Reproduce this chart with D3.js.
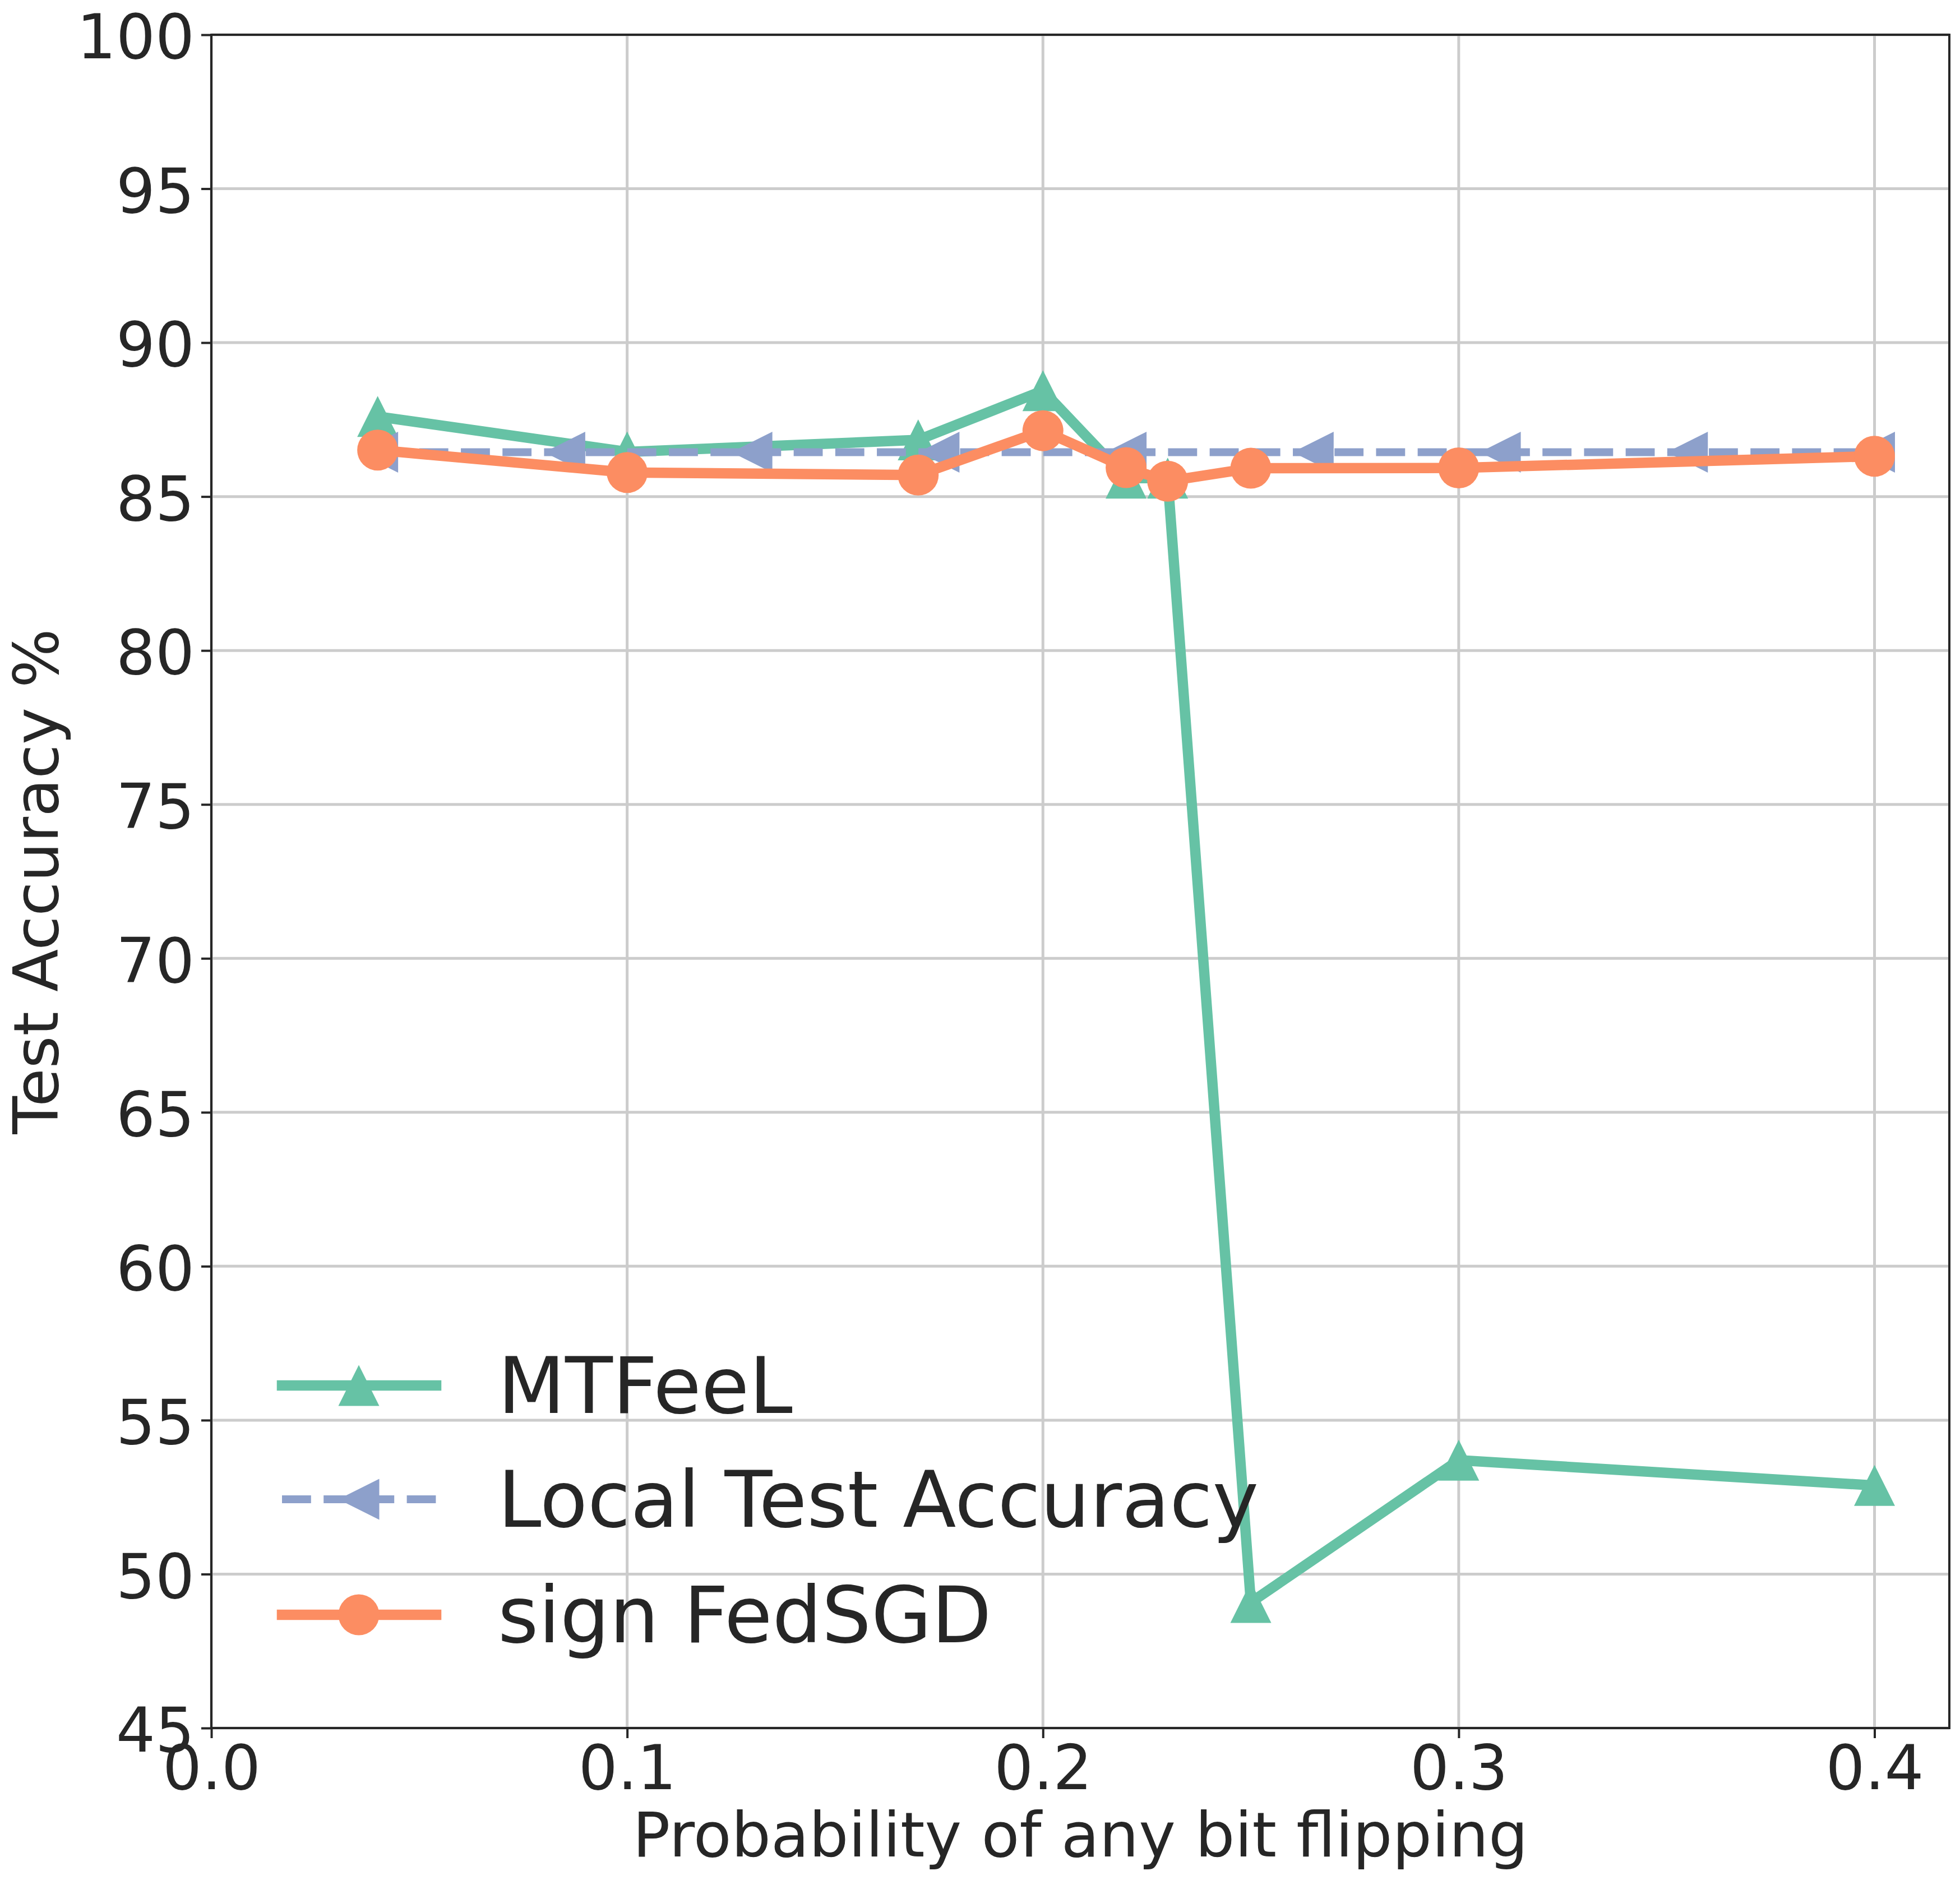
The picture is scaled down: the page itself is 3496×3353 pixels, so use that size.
<!DOCTYPE html>
<html>
<head>
<meta charset="utf-8">
<script src="https://cdn.jsdelivr.net/npm/d3@7"></script>
<style>
  body { margin: 0; background: #fff; }
  svg text { font-family: "DejaVu Sans", sans-serif; fill: #262626; }
</style>
</head>
<body>
<div id="chart"></div>
<script>
// data
const flipProb = [0.04, 0.1, 0.17, 0.2, 0.22, 0.23, 0.25, 0.3, 0.4];
const mtfeelAcc = [87.6, 86.45, 86.84, 88.44, 85.6, 85.6, 49.08, 53.7, 52.88];
const signFedAcc = [86.51, 85.78, 85.7, 87.14, 85.94, 85.5, 85.92, 85.93, 86.31];
const localProb = [0.04, 0.085, 0.13, 0.175, 0.22, 0.265, 0.31, 0.355, 0.4];
const localAcc = [86.44, 86.44, 86.44, 86.44, 86.44, 86.44, 86.44, 86.44, 86.44];
const xTicks = [0.0, 0.1, 0.2, 0.3, 0.4];
const yTicks = [45, 50, 55, 60, 65, 70, 75, 80, 85, 90, 95, 100];
const seriesNames = ["MTFeeL", "Local Test Accuracy", "sign FedSGD"];

const width = 3496, height = 3353;
const plot = { left: 377, right: 3477, top: 62, bottom: 3082 };
const ink = "#262626";
const colors = { green: "#66c2a5", blue: "#8da0cb", orange: "#fc8d62" };
const fontSize = 110;
const labelSize = 111;
const legendSize = 139;
const markerSize = 73;

const x = d3.scaleLinear().domain([0, 0.418]).range([plot.left, plot.right]);
const y = d3.scaleLinear().domain([45, 100]).range([plot.bottom, plot.top]);

const svg = d3.select("#chart").append("svg")
  .attr("width", width).attr("height", height)
  .attr("viewBox", `0 0 ${width} ${height}`);

// grid
const grid = svg.append("g").attr("class", "grid");
grid.selectAll("line.gx").data(xTicks).join("line")
  .attr("class", "gx")
  .attr("x1", d => x(d)).attr("x2", d => x(d))
  .attr("y1", plot.top).attr("y2", plot.bottom)
  .attr("stroke", "#cccccc").attr("stroke-width", 5);
grid.selectAll("line.gy").data(yTicks).join("line")
  .attr("class", "gy")
  .attr("x1", plot.left).attr("x2", plot.right)
  .attr("y1", d => y(d)).attr("y2", d => y(d))
  .attr("stroke", "#cccccc").attr("stroke-width", 5);

// marker shapes, matplotlib-like proportions
const h = markerSize / 2;
const triUp = `M0,${-h}L${-h},${h}L${h},${h}Z`;
const triLeft = `M${-h},0L${h},${-h}L${h},${h}Z`;

const drawMarkers = (g, pts, shape, color) => {
  if (shape === "circle") {
    g.selectAll("circle").data(pts).join("circle")
      .attr("cx", d => d[0]).attr("cy", d => d[1]).attr("r", h)
      .attr("fill", color);
  } else {
    g.selectAll("path.mk").data(pts).join("path")
      .attr("class", "mk")
      .attr("d", shape)
      .attr("transform", d => `translate(${d[0]},${d[1]})`)
      .attr("fill", color);
  }
};

const line = d3.line();
const series = [
  { name: seriesNames[0], xs: flipProb, ys: mtfeelAcc, color: colors.green, shape: triUp, dash: null, lw: 18.5 },
  { name: seriesNames[1], xs: localProb, ys: localAcc, color: colors.blue, shape: triLeft, dash: "51.8 22.4", lw: 14 },
  { name: seriesNames[2], xs: flipProb, ys: signFedAcc, color: colors.orange, shape: "circle", dash: null, lw: 18.5 }
];

const lines = svg.append("g").attr("class", "series");
series.forEach(s => {
  const pts = s.xs.map((v, i) => [x(v), y(s.ys[i])]);
  const g = lines.append("g");
  g.append("path")
    .attr("d", line(pts))
    .attr("fill", "none")
    .attr("stroke", s.color)
    .attr("stroke-width", s.lw)
    .attr("stroke-linejoin", "round")
    .attr("stroke-linecap", s.dash ? "butt" : "square")
    .attr("stroke-dasharray", s.dash);
  drawMarkers(g, pts, s.shape, s.color);
});

// axes
const axisX = svg.append("g")
  .attr("transform", `translate(0,${plot.bottom})`)
  .call(d3.axisBottom(x).tickValues(xTicks).tickFormat(d3.format(".1f"))
    .tickSizeInner(18).tickSizeOuter(0).tickPadding(13));
const axisY = svg.append("g")
  .attr("transform", `translate(${plot.left},0)`)
  .call(d3.axisLeft(y).tickValues(yTicks).tickFormat(d3.format("d"))
    .tickSizeInner(18).tickSizeOuter(0).tickPadding(12));

[axisX, axisY].forEach(a => {
  a.select(".domain").remove();
  a.selectAll(".tick line").attr("stroke", ink).attr("stroke-width", 4);
  a.selectAll(".tick text")
    .attr("font-family", "DejaVu Sans").attr("font-size", fontSize).attr("fill", ink);
});
axisY.selectAll(".tick text").attr("dy", "0.38em");

// spines
svg.append("rect")
  .attr("x", plot.left).attr("y", plot.top)
  .attr("width", plot.right - plot.left).attr("height", plot.bottom - plot.top)
  .attr("fill", "none").attr("stroke", ink).attr("stroke-width", 4);

// axis labels
svg.append("text")
  .attr("x", (plot.left + plot.right) / 2).attr("y", 3311)
  .attr("text-anchor", "middle").attr("font-size", labelSize)
  .text("Probability of any bit flipping");

svg.append("text")
  .attr("transform", `translate(103,${(plot.top + plot.bottom) / 2}) rotate(-90)`)
  .attr("text-anchor", "middle").attr("font-size", labelSize)
  .text("Test Accuracy %");

// legend, no frame
const legend = svg.append("g").attr("class", "legend");
const legendRows = [2471, 2674, 2880];
series.forEach((s, i) => {
  const row = legend.append("g").attr("transform", `translate(0,${legendRows[i]})`);
  row.append("line")
    .attr("x1", 503).attr("x2", 778).attr("y1", 0).attr("y2", 0)
    .attr("stroke", s.color).attr("stroke-width", s.lw)
    .attr("stroke-linecap", s.dash ? "butt" : "square")
    .attr("stroke-dasharray", s.dash);
  drawMarkers(row, [[640, 0]], s.shape, s.color);
  row.append("text")
    .attr("x", 888).attr("y", 49)
    .attr("font-size", legendSize)
    .text(s.name);
});
</script>
</body>
</html>
